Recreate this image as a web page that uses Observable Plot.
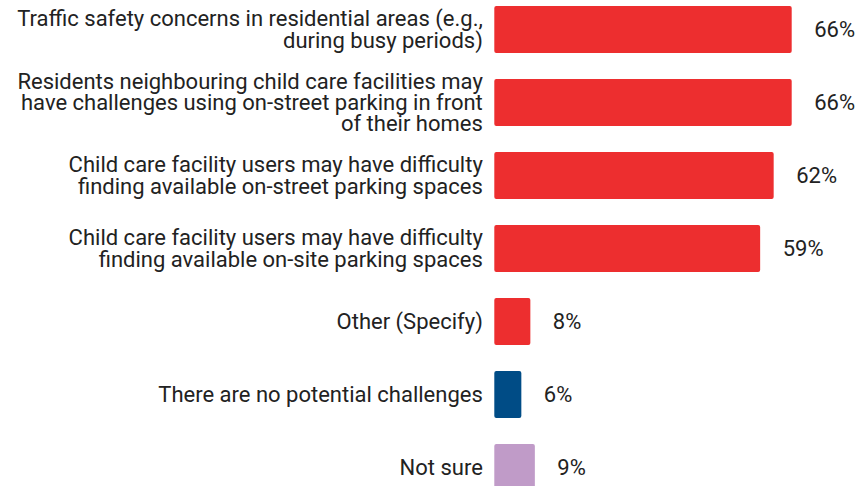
<!DOCTYPE html>
<html>
<head>
<meta charset="utf-8">
<script src="https://cdn.jsdelivr.net/npm/d3@7"></script>
<script src="https://cdn.jsdelivr.net/npm/@observablehq/plot@0.6"></script>
<style>
  html, body { margin: 0; padding: 0; background: #fff; overflow: hidden; }
  svg { display: block; }
</style>
</head>
<body>
<div id="chart"></div>
<script>
const categories = [
  "Traffic safety concerns in residential areas (e.g.,\nduring busy periods)",
  "Residents neighbouring child care facilities may\nhave challenges using on-street parking in front\nof their homes",
  "Child care facility users may have difficulty\nfinding available on-street parking spaces",
  "Child care facility users may have difficulty\nfinding available on-site parking spaces",
  "Other (Specify)",
  "There are no potential challenges",
  "Not sure"
];
const values = [66, 66, 62, 59, 8, 6, 9];
const colors = ["#ED2E2F", "#ED2E2F", "#ED2E2F", "#ED2E2F", "#ED2E2F", "#004C86", "#C09BC8"];

const data = categories.map((c, i) => ({category: c, value: values[i], color: colors[i]}));

const chart = Plot.plot({
  width: 862,
  height: 494,
  marginTop: 0,
  marginBottom: 0,
  marginLeft: 0,
  marginRight: 0,
  style: {fontFamily: "Roboto, sans-serif", fontSize: "22px", color: "#222", background: "#fff"},
  x: {domain: [0, 100], range: [494.3, 494.3 + 450.6], axis: null},
  y: {domain: categories, range: [3.7, 492.4], paddingInner: 0.36, paddingOuter: 0, axis: null},
  marks: [
    Plot.barX(data, {y: "category", x: "value", fill: "color", rx: 2}),
    Plot.text(data, {y: "category", x: "value", text: d => d.value + "%", textAnchor: "start", dx: 22, fontSize: 22, fill: "#222"}),
    Plot.text(data, {y: "category", x: 0, text: "category", textAnchor: "end", dx: -12, fontSize: 22, lineHeight: 0.97, fill: "#222"})
  ]
});
document.getElementById("chart").appendChild(chart);
</script>
</body>
</html>
